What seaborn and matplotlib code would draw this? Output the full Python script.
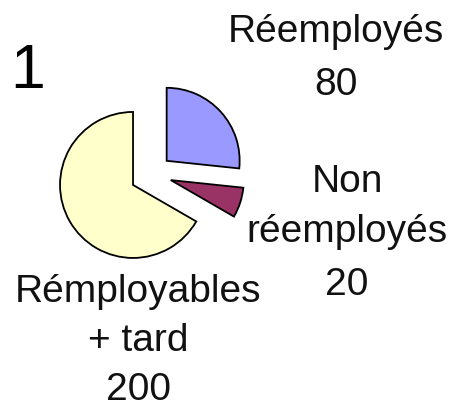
import matplotlib
matplotlib.use("Agg")
import matplotlib.pyplot as plt
import seaborn as sns

# données
categories = ["Réemployés", "Non réemployés", "Rémployables + tard"]
values = [80, 20, 200]
colors = ["#9999FF", "#993366", "#FFFFCC"]
explode = [0.27, 0.27, 0.30]

# étiquettes (une ligne par texte) : x centre, lignes de base en pixels
label_lines = [["Réemployés", "80"],
               ["Non", "réemployés", "20"],
               ["Rémployables", "+ tard", "200"]]
label_x = [336, 347, 138]
label_y = [[42, 95], [192, 242, 295], [302, 351, 400]]

W, H = 453, 409
R_PX = 73          # rayon du camembert en pixels
CX, CY = 152, 174  # centre du camembert en pixels (depuis le haut)


def main():
    sns.set_style("white")
    plt.rcParams["font.family"] = ["Liberation Sans", "DejaVu Sans"]

    fig = plt.figure(figsize=(W / 100, H / 100), dpi=100)
    ax = fig.add_axes([0, 0, 1, 1])

    ax.pie(values, colors=colors, explode=explode, startangle=90,
           counterclock=False, radius=1,
           wedgeprops={"edgecolor": "black", "linewidth": 1.3})

    ax.set_xlim(-CX / R_PX, (W - CX) / R_PX)
    ax.set_ylim(-(H - CY) / R_PX, CY / R_PX)
    ax.set_aspect("equal")
    ax.axis("off")

    for lines, x, ys in zip(label_lines, label_x, label_y):
        for line, y in zip(lines, ys):
            fig.text(x / W, 1 - y / H, line, ha="center", va="baseline",
                     fontsize=28, color="#111111")

    fig.text(10 / W, 1 - 88 / H, "1", ha="left", va="baseline",
             fontsize=45, color="black")

    fig.savefig("out.png", dpi=100, facecolor="white")


if __name__ == "__main__":
    main()
